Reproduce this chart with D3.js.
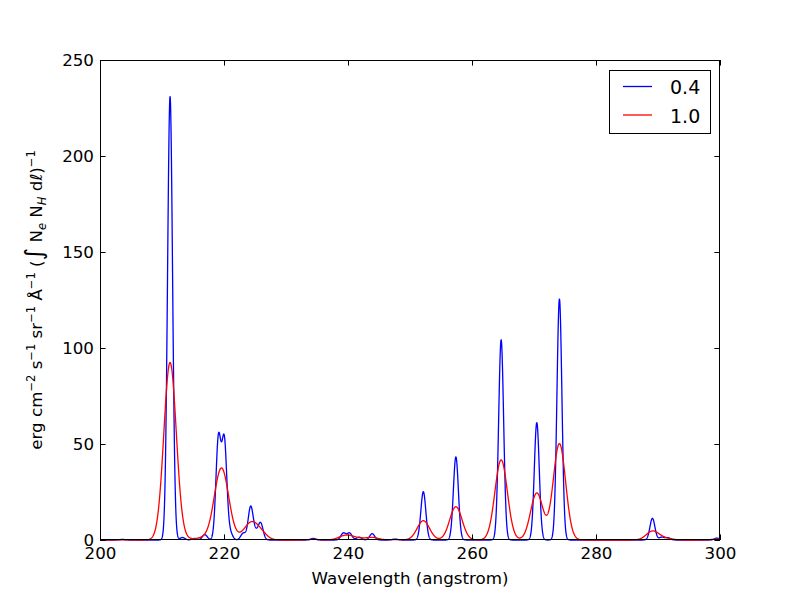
<!DOCTYPE html>
<html><head><meta charset="utf-8">
<script src="https://cdn.jsdelivr.net/npm/d3@7"></script>
<style>
body{margin:0;background:#fff}
text{font-family:"DejaVu Sans",sans-serif;fill:#000}
</style>
</head><body>
<svg id="c" width="800" height="600"></svg>
<script>
// Emission line list: centre wavelength (angstrom)
// and integrated line intensity (area under each line profile).
const lineWavelengths = [203.6, 211.3, 213.3, 215.2, 216.9, 219.1, 220.05, 221.0, 223.1, 224.3, 225.1, 225.9,
  234.4, 239.25, 240.25, 241.8, 243.9, 247.6, 252.15, 257.4, 264.7, 270.45, 274.1, 289.1, 290.6, 291.6, 299.5];
const lineIntensities = [0.3, 231.5, 1.3, 0.8, 2.8, 52.5, 51.3, 3.5, 3.5, 17.3, 3.0, 8.8,
  0.8, 3.6, 3.6, 1.5, 3.3, 0.5, 25.2, 43.4, 104.5, 61.3, 125.8, 11.3, 1.5, 1.2, 1.0];
// Gaussian filter widths of the two series (legend labels)
const filterWidths = [0.4, 1.0];
const seriesLabels = ["0.4", "1.0"];
const xTicks = [200, 220, 240, 260, 280, 300];
const yTicks = [0, 50, 100, 150, 200, 250];
const xDomain = [200, 300];
const yDomain = [0, 250];
const wavelengthStep = 0.02;

const seriesColors = ["#0000ff", "#ff0000"];
const L = 100, R = 720, T = 60, B = 540;
const svg = d3.select("#c");
svg.append("rect").attr("width", 800).attr("height", 600).attr("fill", "#fff");

const x = d3.scaleLinear().domain(xDomain).range([L, R]);
const y = d3.scaleLinear().domain(yDomain).range([B, T]);

const grid = d3.range(xDomain[0], xDomain[1] + 1e-9, wavelengthStep);
function spectrum(sigma) {
  const norm = 1 / (sigma * Math.sqrt(2 * Math.PI));
  return grid.map(w => {
    let s = 0;
    for (let i = 0; i < lineWavelengths.length; i++) {
      const d = (w - lineWavelengths[i]) / sigma;
      if (Math.abs(d) < 10) s += lineIntensities[i] * Math.exp(-0.5 * d * d);
    }
    return [w, s * norm];
  });
}

svg.append("clipPath").attr("id", "clip").append("rect")
  .attr("x", L).attr("y", T - 2).attr("width", R - L).attr("height", B - T + 4);

const line = d3.line().x(d => x(d[0])).y(d => y(d[1]));
const plot = svg.append("g").attr("clip-path", "url(#clip)");
filterWidths.forEach((w, i) => {
  plot.append("path").datum(spectrum(w))
    .attr("d", line).attr("fill", "none")
    .attr("stroke", seriesColors[i]).attr("stroke-width", 1.3)
    .attr("stroke-linejoin", "round");
});

// axes with inward ticks on all four sides
const tk = 5.6, fs = "16.7px";
function styleAxis(g) {
  g.select(".domain").remove();
  g.selectAll(".tick line").attr("stroke", "#000").attr("stroke-width", 1);
  g.selectAll("text").style("font-size", fs).attr("fill", "#000");
}
svg.append("g").attr("transform", `translate(0,${B})`)
  .call(d3.axisBottom(x).tickValues(xTicks).tickSize(-tk).tickPadding(7).tickFormat(d3.format("d")))
  .call(styleAxis);
svg.append("g").attr("transform", `translate(0,${T})`)
  .call(d3.axisTop(x).tickValues(xTicks).tickSize(-tk).tickFormat(""))
  .call(styleAxis);
svg.append("g").attr("transform", `translate(${L},0)`)
  .call(d3.axisLeft(y).tickValues(yTicks).tickSize(-tk).tickPadding(6).tickFormat(d3.format("d")))
  .call(styleAxis);
svg.append("g").attr("transform", `translate(${R},0)`)
  .call(d3.axisRight(y).tickValues(yTicks).tickSize(-tk).tickFormat(""))
  .call(styleAxis);

svg.append("rect").attr("x", L + 0.5).attr("y", T + 0.5).attr("width", R - L - 1).attr("height", B - T - 1)
  .attr("fill", "none").attr("stroke", "#000").attr("stroke-width", 1);

// x label
svg.append("text").attr("x", (L + R) / 2).attr("y", 584).attr("text-anchor", "middle")
  .style("font-size", fs).text("Wavelength (angstrom)");

// y label with super/subscripts
const yl = svg.append("text").attr("transform", "translate(42,300) rotate(-90)")
  .attr("text-anchor", "middle").style("font-size", fs);
const parts = [
  ["erg cm", 0], ["\u22122", 1], [" s", -1], ["\u22121", 1], [" sr", -1], ["\u22121", 1],
  [" \u00C5", -1], ["\u22121", 1], [" (", -1], ["\u222B", 3], [" N", 4], ["e", 2], [" N", -2],
  ["H", 5], [" d", -5], ["\u2113", 0], [")", 0], ["\u22121", 1]
];
parts.forEach(([t, k]) => {
  const s = yl.append("tspan").text(t);
  if (k === 1) s.attr("dy", -7).style("font-size", "11.5px");
  else if (k === -1) s.attr("dy", 7);
  else if (k === 3) s.style("font-size", "24px");
  else if (k === 2) s.attr("dy", 4).style("font-size", "11.5px").style("font-style", "italic");
  else if (k === 5) s.attr("dy", 4).style("font-size", "11.5px").style("font-style", "italic");
  else if (k === -2 || k === -5) s.attr("dy", -4);
});

// legend
const lg = svg.append("g");
lg.append("rect").attr("x", 609.5).attr("y", 70.5).attr("width", 101).attr("height", 63)
  .attr("fill", "#fff").attr("stroke", "#000").attr("stroke-width", 1);
seriesLabels.forEach((lab, i) => {
  const yy = 86.5 + i * 28.5;
  lg.append("line").attr("x1", 623).attr("x2", 652).attr("y1", yy).attr("y2", yy)
    .attr("stroke", seriesColors[i]).attr("stroke-width", 1.3);
  lg.append("text").attr("x", 670).attr("y", yy + 7.5).style("font-size", "19px").text(lab);
});
</script>
</body></html>
